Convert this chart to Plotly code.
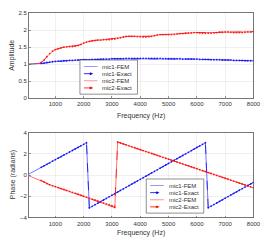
import plotly.graph_objects as go

# ---------------- data ----------------
freq = [60] + list(range(100, 8001, 100))  # Hz

mic1_amp = [1.00, 1.00, 1.00, 1.01, 1.01, 1.02, 1.03, 1.05, 1.06, 1.07, 1.08,
            1.09, 1.09, 1.10, 1.10, 1.11, 1.11, 1.12, 1.12, 1.12, 1.13,
            1.13, 1.13, 1.14, 1.14, 1.14, 1.15, 1.15, 1.15, 1.15, 1.16,
            1.16, 1.16, 1.16, 1.16, 1.17, 1.17, 1.17, 1.17, 1.17, 1.17,
            1.17, 1.17, 1.17, 1.17, 1.17, 1.17, 1.17, 1.16, 1.16, 1.16,
            1.16, 1.16, 1.16, 1.16, 1.15, 1.15, 1.15, 1.15, 1.15, 1.15,
            1.14, 1.14, 1.14, 1.14, 1.13, 1.13, 1.13, 1.13, 1.12, 1.12,
            1.12, 1.12, 1.11, 1.11, 1.11, 1.11, 1.10, 1.10, 1.10, 1.10]

mic2_amp = [1.00, 1.00, 1.00, 1.01, 1.02, 1.05, 1.12, 1.22, 1.31, 1.38, 1.43,
            1.46, 1.48, 1.50, 1.51, 1.52, 1.52, 1.53, 1.55, 1.58, 1.62,
            1.65, 1.67, 1.69, 1.70, 1.71, 1.71, 1.72, 1.72, 1.72, 1.73,
            1.74, 1.76, 1.78, 1.80, 1.82, 1.82, 1.82, 1.82, 1.81, 1.81,
            1.80, 1.80, 1.81, 1.82, 1.84, 1.86, 1.87, 1.87, 1.87, 1.87,
            1.87, 1.88, 1.89, 1.90, 1.90, 1.91, 1.92, 1.92, 1.93, 1.93,
            1.92, 1.91, 1.91, 1.91, 1.91, 1.92, 1.93, 1.94, 1.94, 1.95,
            1.95, 1.94, 1.93, 1.93, 1.93, 1.93, 1.94, 1.95, 1.95, 1.96]

mic1_phase = [0.09, 0.15, 0.29, 0.44, 0.58, 0.73, 0.87, 1.02, 1.16, 1.31, 1.45,
              1.60, 1.74, 1.89, 2.03, 2.18, 2.32, 2.47, 2.61, 2.76, 2.90,
              3.05, -3.10, -2.95, -2.80, -2.65, -2.50, -2.35, -2.20, -2.05, -1.90,
              -1.75, -1.60, -1.45, -1.30, -1.15, -1.00, -0.85, -0.70, -0.55, -0.40,
              -0.25, -0.10, 0.05, 0.20, 0.35, 0.50, 0.65, 0.80, 0.95, 1.10,
              1.25, 1.40, 1.55, 1.70, 1.85, 2.00, 2.15, 2.30, 2.45, 2.60,
              2.75, 2.90, 3.05, -3.08, -2.93, -2.78, -2.63, -2.48, -2.33, -2.18,
              -2.03, -1.88, -1.73, -1.58, -1.43, -1.28, -1.13, -0.98, -0.83, -0.68]

mic2_phase = [-0.06, -0.10, -0.20, -0.30, -0.39, -0.50, -0.66, -0.80, -0.92, -1.01, -1.09,
              -1.18, -1.27, -1.36, -1.45, -1.54, -1.63, -1.72, -1.81, -1.90, -1.99,
              -2.08, -2.17, -2.26, -2.35, -2.44, -2.53, -2.62, -2.71, -2.80, -2.89,
              -3.05, 3.12, 3.03, 2.94, 2.85, 2.76, 2.67, 2.58, 2.49, 2.40,
              2.31, 2.22, 2.13, 2.04, 1.95, 1.86, 1.77, 1.68, 1.59, 1.50,
              1.41, 1.32, 1.23, 1.14, 1.05, 0.96, 0.87, 0.78, 0.69, 0.60,
              0.51, 0.42, 0.33, 0.24, 0.15, 0.06, -0.03, -0.12, -0.21, -0.30,
              -0.39, -0.48, -0.57, -0.66, -0.75, -0.84, -0.93, -1.02, -1.11, -1.20]

exact_start = 5  # exact solution sampled from 500 Hz

series_names = ["mic1-FEM", "mic1-Exact", "mic2-FEM", "mic2-Exact"]
x_ticks = [1000, 2000, 3000, 4000, 5000, 6000, 7000, 8000]
amp_ticks = [0, 0.5, 1, 1.5, 2, 2.5]
phase_ticks = [-4, -2, 0, 2, 4]

# ---------------- styling ----------------
W, H = 280, 240
BLUE = "#0000ff"
RED = "#ff0000"
FONT = "Liberation Sans"
AXC = "#555555"
TXT = "#333333"


def px(x):
    return x / W


def py(y):
    return 1 - y / H


fig = go.Figure()


def add_panel(xa, ya, y1, y2):
    sets = [
        (series_names[0], freq, y1, BLUE, False),
        (series_names[1], freq[exact_start:], y1[exact_start:], BLUE, True),
        (series_names[2], freq, y2, RED, False),
        (series_names[3], freq[exact_start:], y2[exact_start:], RED, True),
    ]
    for name, xs, ys, col, exact in sets:
        if exact:
            fig.add_trace(go.Scatter(
                x=xs, y=ys, name=name, xaxis=xa, yaxis=ya, mode="lines+markers",
                line=dict(color=col, width=0.8, dash="dash"),
                marker=dict(color=col, size=1.8, symbol="circle", line=dict(width=0)),
                opacity=0.85, showlegend=False, hoverinfo="skip"))
        else:
            fig.add_trace(go.Scatter(
                x=xs, y=ys, name=name, xaxis=xa, yaxis=ya, mode="lines",
                line=dict(color=col, width=0.8),
                opacity=0.7, showlegend=False, hoverinfo="skip"))


add_panel("x", "y", mic1_amp, mic2_amp)
add_panel("x2", "y2", mic1_phase, mic2_phase)

common_axis = dict(
    showline=True, mirror=True, linecolor=AXC, linewidth=0.8,
    ticks="inside", ticklen=2, tickcolor=AXC, tickwidth=0.6,
    showgrid=True, gridcolor="#e6e6e6", gridwidth=0.6,
    zeroline=False, tickfont=dict(family=FONT, size=6, color=TXT),
)

xdom = [px(29.5), px(260)]
fig.update_layout(
    width=W, height=H, margin=dict(l=0, r=0, t=0, b=0),
    paper_bgcolor="white", plot_bgcolor="white", showlegend=False,
    xaxis=dict(domain=xdom, anchor="y", range=[60, 8000], tickvals=x_ticks, **common_axis),
    yaxis=dict(domain=[py(97.5), py(10.5)], anchor="x", range=[0, 2.5], tickvals=amp_ticks,
               ticktext=["0", "0.5", "1", "1.5", "2", "2.5"], **common_axis),
    xaxis2=dict(domain=xdom, anchor="y2", range=[60, 8000], tickvals=x_ticks, **common_axis),
    yaxis2=dict(domain=[py(220), py(133)], anchor="x2", range=[-4, 4], tickvals=phase_ticks, **common_axis),
)

# axis titles
annots = [
    dict(text="Amplitude", x=px(11.5), y=py(54), textangle=-90),
    dict(text="Phase (radians)", x=px(13.5), y=py(176.5), textangle=-90),
    dict(text="Frequency (Hz)", x=px(145), y=py(116)),
    dict(text="Frequency (Hz)", x=px(145), y=py(235.5)),
]
for a in annots:
    fig.add_annotation(xref="paper", yref="paper", showarrow=False,
                       xanchor="center", yanchor="middle",
                       font=dict(family=FONT, size=7, color=TXT), **a)


# custom compact legends (MATLAB style)
def add_legend(left, top):
    w, h = 59, 35
    fig.add_shape(type="rect", xref="paper", yref="paper",
                  x0=px(left), x1=px(left + w), y0=py(top + h), y1=py(top),
                  line=dict(color="#444444", width=0.6), fillcolor="white", layer="above")
    styles = [(BLUE, False), (BLUE, True), (RED, False), (RED, True)]
    for i, (name, (col, exact)) in enumerate(zip(series_names, styles)):
        yy = top + 6.7 + i * 7.3
        fig.add_shape(type="line", xref="paper", yref="paper",
                      x0=px(left + 4), x1=px(left + 18), y0=py(yy), y1=py(yy),
                      line=dict(color=col, width=0.9 if exact else 0.7, dash="dash" if exact else "solid"),
                      opacity=0.9 if exact else 0.6, layer="above")
        if exact:
            r = 1.0
            fig.add_shape(type="circle", xref="paper", yref="paper",
                          x0=px(left + 11 - r), x1=px(left + 11 + r),
                          y0=py(yy + r), y1=py(yy - r),
                          line=dict(color=col, width=0.5), fillcolor=col, layer="above")
        fig.add_annotation(xref="paper", yref="paper", showarrow=False,
                           x=px(left + 21), y=py(yy), xanchor="left", yanchor="middle",
                           text=name, font=dict(family=FONT, size=6, color=TXT))


add_legend(82, 58.5)
add_legend(150, 180.5)

fig.write_html("out.html",
               config={"displayModeBar": False, "staticPlot": True},
               post_script="document.body.style.margin='0';document.body.style.padding='0';")
